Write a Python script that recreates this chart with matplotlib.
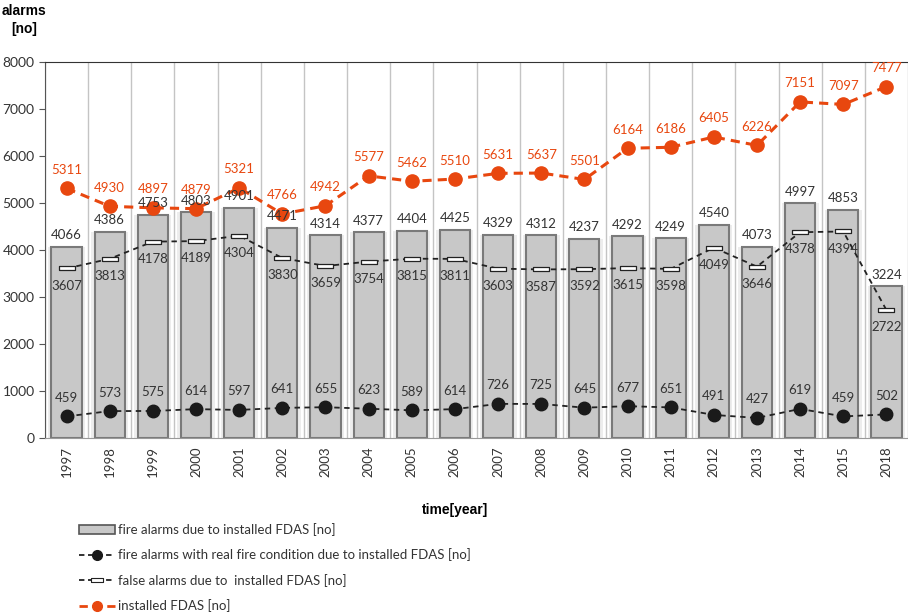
import matplotlib.pyplot as plt
from matplotlib.patches import Patch
from matplotlib.lines import Line2D

years = ["1997", "1998", "1999", "2000", "2001", "2002", "2003", "2004", "2005", "2006",
         "2007", "2008", "2009", "2010", "2011", "2012", "2013", "2014", "2015", "2018"]
fire_alarms = [4066, 4386, 4753, 4803, 4901, 4471, 4314, 4377, 4404, 4425,
               4329, 4312, 4237, 4292, 4249, 4540, 4073, 4997, 4853, 3224]
real_fire = [459, 573, 575, 614, 597, 641, 655, 623, 589, 614,
             726, 725, 645, 677, 651, 491, 427, 619, 459, 502]
false_alarms = [3607, 3813, 4178, 4189, 4304, 3830, 3659, 3754, 3815, 3811,
                3603, 3587, 3592, 3615, 3598, 4049, 3646, 4378, 4394, 2722]
installed = [5311, 4930, 4897, 4879, 5321, 4766, 4942, 5577, 5462, 5510,
             5631, 5637, 5501, 6164, 6186, 6405, 6226, 7151, 7097, 7477]

plt.rcParams['font.family'] = ['Lato', 'DejaVu Sans']

orange = '#e8470f'
txt = '#333333'
x = list(range(len(years)))

fig = plt.figure(figsize=(9.08, 6.16), dpi=100)
ax = fig.add_axes([45 / 908, 1 - 438 / 616, 863 / 908, 376 / 616])

# separators between the years
for i in range(len(years) + 1):
    ax.axvline(i - 0.5, color='#c4c4c4', lw=1, zorder=0)

# soft glow behind each bar, then the bars
ax.bar(x, fire_alarms, width=0.86, color='#ededed', edgecolor='none', zorder=1)
ax.bar(x, fire_alarms, width=0.7, color='#c8c8c8', edgecolor='#7a7a7a', lw=1.5, zorder=2)

rect = [(-1.7, -0.45), (1.7, -0.45), (1.7, 0.45), (-1.7, 0.45), (-1.7, -0.45)]
ax.plot(x, false_alarms, color='#222222', ls=(0, (3, 2.5)), lw=1.3,
        marker=rect, ms=12, mfc='white', mec='#222222', mew=0.9, zorder=3)
ax.plot(x, real_fire, color='#222222', ls=(0, (3, 2.5)), lw=1.3,
        marker='o', ms=9, mfc='#1a1a1a', mec='#1a1a1a', zorder=3)
ax.plot(x, installed, color=orange, ls=(0, (3, 2)), lw=2.2,
        marker='o', ms=9.5, mfc=orange, mec=orange, zorder=4)

for i in x:
    ax.annotate(str(fire_alarms[i]), (i, fire_alarms[i]), xytext=(0, 4), textcoords='offset points',
                ha='center', va='bottom', fontsize=9.5, color=txt, zorder=5)
    ax.annotate(str(false_alarms[i]), (i, false_alarms[i]), xytext=(0, -8), textcoords='offset points',
                ha='center', va='top', fontsize=9.5, color=txt, zorder=5)
    ax.annotate(str(real_fire[i]), (i, real_fire[i]), xytext=(0, 9), textcoords='offset points',
                ha='center', va='bottom', fontsize=9.5, color=txt, zorder=5)
    ax.annotate(str(installed[i]), (i, installed[i]), xytext=(0, 9), textcoords='offset points',
                ha='center', va='bottom', fontsize=9.5, color=orange, zorder=5)

ax.set_xlim(-0.5, len(years) - 0.5)
ax.set_ylim(0, 8000)
ax.set_yticks(range(0, 8001, 1000))
ax.set_xticks(x)
ax.set_xticklabels(years, rotation=90, fontsize=9.5, color=txt)
ax.tick_params(axis='y', labelsize=10, colors=txt, direction='out', length=4, color='#555555')
ax.tick_params(axis='x', length=0, pad=6)

ax.spines['right'].set_visible(False)
ax.spines['top'].set_color('#333333')
ax.spines['left'].set_color('#555555')
ax.spines['bottom'].set_color('#9a9a9a')

fig.text(24 / 908, 1 - 20 / 616, "alarms\n[no]", ha='center', va='center',
         fontsize=10, fontweight='bold', family=['Liberation Sans', 'DejaVu Sans'], linespacing=1.3)
fig.text(455 / 908, 1 - 510 / 616, "time[year]", ha='center', va='center',
         fontsize=10, fontweight='bold', family=['Liberation Sans', 'DejaVu Sans'])

handles = [
    Patch(facecolor='#c8c8c8', edgecolor='#555555', lw=1.2),
    Line2D([], [], color='#222222', ls=(0, (3, 2)), lw=1.3, marker='o', ms=7, mfc='#1a1a1a', mec='#1a1a1a'),
    Line2D([], [], color='#222222', ls=(0, (3, 2)), lw=1.3, marker=rect, ms=9, mfc='white', mec='#222222', mew=0.8),
    Line2D([], [], color=orange, ls=(0, (3, 2)), lw=2, marker='o', ms=7, mfc=orange, mec=orange),
]
labels = [
    "fire alarms due to installed FDAS [no]",
    "fire alarms with real fire condition due to installed FDAS [no]",
    "false alarms due to  installed FDAS [no]",
    "installed FDAS [no]",
]
fig.legend(handles, labels, loc='upper left', bbox_to_anchor=(79 / 908, 1 - 523 / 616),
           frameon=False, fontsize=9.5, labelspacing=0.95, handlelength=2.7, handletextpad=0.25,
           borderaxespad=0, borderpad=0)
for t in fig.legends[0].get_texts():
    t.set_color(txt)

fig.savefig('out.png', dpi=100)
